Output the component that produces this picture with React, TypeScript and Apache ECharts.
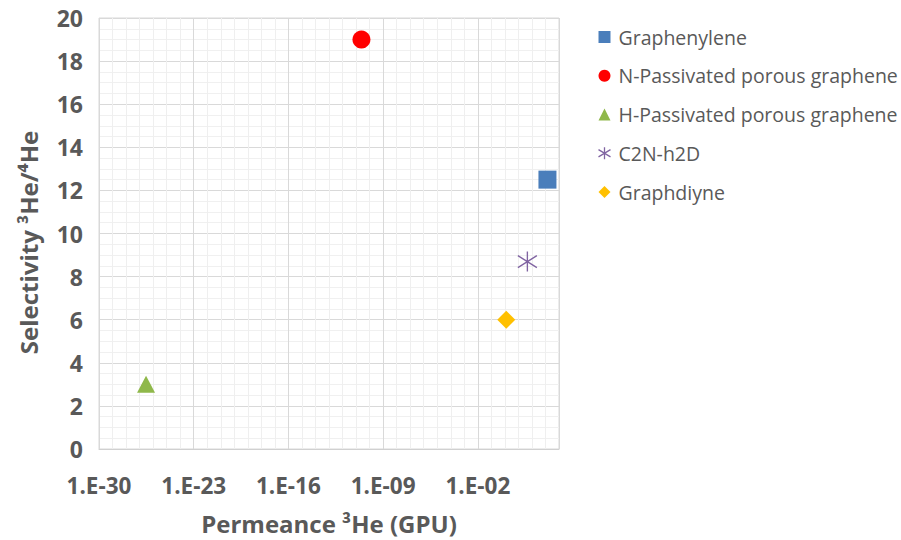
import React, { useEffect, useRef } from "react";
import * as echarts from "echarts";

const seriesNames = [
  "Graphenylene",
  "N-Passivated porous graphene",
  "H-Passivated porous graphene",
  "C2N-h2D",
  "Graphdiyne",
];
const permeance = [1400, 2.5e-11, 3e-27, 46, 1.26];
const selectivity = [12.5, 19, 3, 8.7, 6];
const colors = ["#4a7ebb", "#ff0000", "#8fb84a", "#8064a2", "#ffc000"];
// exponents (base 10) of the x-axis range and labelled ticks
const xMinExp = -30;
const xMaxExp = 4;
const xTickExponents = [-30, -23, -16, -9, -2];
const yTicks = [0, 2, 4, 6, 8, 10, 12, 14, 16, 18, 20];

const STAR = "path://M10,0 L10,20 M0,4 L20,16 M0,16 L20,4";
const symbols = ["rect", "circle", "triangle", STAR, "diamond"];
const symbolSizes: any[] = [18, 18, [18, 17], [19, 20], 18];

const FONT = "Open Sans";
const GRAY = "#595959";

function fmtExp(v: number): string {
  const e = Math.round(v);
  if (xTickExponents.indexOf(e) < 0) return "";
  const a = Math.abs(e);
  return "1.E" + (e < 0 ? "-" : "+") + (a < 10 ? "0" + a : String(a));
}

export default function App() {
  const ref = useRef<HTMLDivElement>(null);
  useEffect(() => {
    if (!ref.current) return;
    const chart = echarts.init(ref.current, undefined, { renderer: "svg" });
    const series: any[] = seriesNames.map((name, i) => ({
      name,
      type: "scatter",
      xAxisIndex: 1,
      yAxisIndex: 0,
      symbol: symbols[i],
      symbolSize: symbolSizes[i],
      data: [[Math.log10(permeance[i]), selectivity[i]]],
      itemStyle:
        i === 3
          ? { color: "none", borderColor: colors[i], borderWidth: 1.4, opacity: 1 }
          : { color: colors[i], opacity: 1 },
    }));
    chart.setOption({
      animation: false,
      backgroundColor: "#ffffff",
      grid: {
        left: 99,
        top: 18,
        right: 342,
        bottom: 91,
        show: true,
        borderColor: "#d9d9d9",
        borderWidth: 1,
      },
      legend: {
        orient: "vertical",
        left: 591,
        top: 20,
        itemWidth: 12,
        itemHeight: 12,
        itemGap: 14.75,
        data: seriesNames.map((n, i) =>
          i === 3
            ? { name: n, itemStyle: { color: "none", borderColor: colors[i], borderWidth: 1.3, opacity: 1 } }
            : { name: n, itemStyle: { color: colors[i], opacity: 1 } }
        ),
        textStyle: {
          fontFamily: FONT,
          fontSize: 19.5,
          color: GRAY,
          lineHeight: 24,
          padding: [0, 0, 0, 3],
        },
      },
      xAxis: [
        {
          type: "value",
          min: xMinExp,
          max: xMaxExp,
          interval: 1,
          position: "bottom",
          axisLine: { show: false },
          axisTick: { show: false },
          axisLabel: { show: false },
          splitLine: { show: true, lineStyle: { color: "#efefef", width: 1 } },
        },
        {
          type: "value",
          min: xMinExp,
          max: xMaxExp,
          interval: 7,
          position: "bottom",
          name: "Permeance \u00B3He (GPU)",
          nameLocation: "middle",
          nameGap: 62,
          nameTextStyle: { fontFamily: FONT, fontSize: 24, fontWeight: "bold", color: GRAY },
          axisLine: { show: true, lineStyle: { color: "#d0d0d0" } },
          axisTick: { show: false },
          axisLabel: {
            formatter: fmtExp,
            margin: 25,
            fontFamily: FONT,
            fontSize: 22.5,
            fontWeight: "bold",
            color: GRAY,
          },
          splitLine: { show: true, lineStyle: { color: "#d9d9d9", width: 1 } },
        },
      ],
      yAxis: [
        {
          type: "value",
          min: yTicks[0],
          max: yTicks[yTicks.length - 1],
          interval: 2,
          name: "Selectivity \u00B3He/\u2074He",
          nameLocation: "middle",
          nameGap: 59,
          nameTextStyle: {
            fontFamily: FONT,
            fontSize: 24,
            fontWeight: "bold",
            color: GRAY,
            padding: [0, 18, 0, 0],
          },
          axisLine: { show: false },
          axisTick: { show: false },
          axisLabel: {
            margin: 16,
            fontFamily: FONT,
            fontSize: 23,
            fontWeight: "bold",
            color: GRAY,
          },
          splitLine: { show: true, lineStyle: { color: "#d9d9d9", width: 1 } },
          minorTick: { show: false, splitNumber: 4 },
          minorSplitLine: { show: true, lineStyle: { color: "#f0f0f0", width: 1 } },
        },
      ],
      series,
    });
    return () => chart.dispose();
  }, []);
  return (
    <div
      ref={ref}
      style={{ position: "fixed", left: 0, top: 0, width: 901, height: 540, background: "#fff" }}
    />
  );
}
